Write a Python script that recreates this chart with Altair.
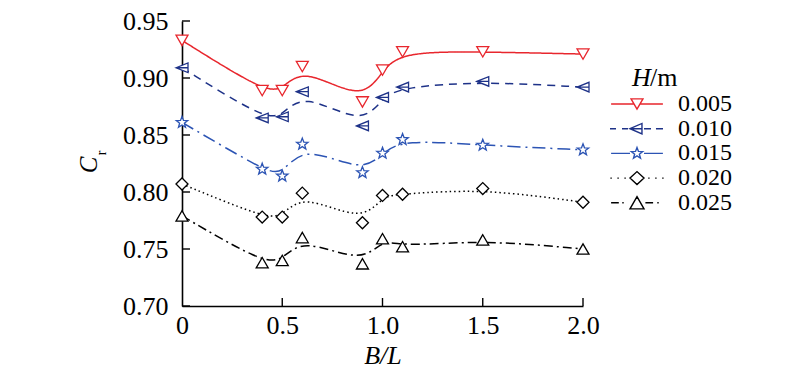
import altair as alt
import pandas as pd

# ---------------- data ----------------
B = [0, 0.4, 0.5, 0.6, 0.9, 1.0, 1.1, 1.5, 2.0]
H_LABELS = ["0.005", "0.010", "0.015", "0.020", "0.025"]
CR_005 = [0.933, 0.889, 0.889, 0.910, 0.879, 0.907, 0.923, 0.923, 0.921]
CR_010 = [0.909, 0.865, 0.866, 0.888, 0.858, 0.883, 0.892, 0.897, 0.892]
CR_015 = [0.861, 0.820, 0.814, 0.842, 0.817, 0.834, 0.846, 0.841, 0.837]
CR_020 = [0.807, 0.778, 0.778, 0.799, 0.773, 0.797, 0.798, 0.803, 0.791]
CR_025 = [0.779, 0.738, 0.740, 0.760, 0.737, 0.759, 0.752, 0.758, 0.750]
SERIES = [CR_005, CR_010, CR_015, CR_020, CR_025]

X_TICKS = [0, 0.5, 1.0, 1.5, 2.0]
Y_TICKS = [0.70, 0.75, 0.80, 0.85, 0.90, 0.95]

# ---------------- styles ----------------
FONT = "serif"
COLORS = ["#e8262d", "#1e3288", "#2c54b4", "#000000", "#000000"]
DASHES = [[1, 0], [8, 6], [13, 5, 2, 5], [1.5, 3], [9, 4, 2, 4]]


def poly(pts, s=1.0):
    return "M" + "L".join(f"{x * s:.3f},{y * s:.3f}" for x, y in pts) + "Z"


def seg(x0, x1, y=0):
    return f"M{x0},{y}L{x1},{y}"


STAR_PTS = [(0, -1), (0.247, -0.340), (0.951, -0.309), (0.399, 0.130), (0.588, 0.809),
            (0, 0.42), (-0.588, 0.809), (-0.399, 0.130), (-0.951, -0.309), (-0.247, -0.340)]
TRI_LEFT_PLOT = "M-1,0L1,-0.8L1,0.8ZM-1,0L1,0"
STAR_PLOT = poly(STAR_PTS)
POINT_SHAPES = ["triangle-down", TRI_LEFT_PLOT, STAR_PLOT, "diamond", "triangle-up"]

LEG_005 = seg(-3.7, -0.43) + seg(0.43, 3.7) + poly([(-1, -0.866), (1, -0.866), (0, 0.866)], 0.85)
LEG_010 = (seg(-3.86, -3.0) + seg(-2.14, -1.29) + "M-1,0L0.71,-0.75L0.71,0.75ZM-1,0L0.71,0"
           + seg(1.0, 2.0) + seg(2.71, 3.71))
LEG_015 = seg(-3.7, -1.0) + seg(1.0, 3.7) + poly(STAR_PTS, 0.85)
LEG_020 = ("".join(seg(c - 0.1, c + 0.1) for c in [-3.7, -2.7, -1.7, 1.7, 2.7, 3.7])
           + poly([(-1, 0), (0, -0.93), (1, 0), (0, 0.93)]))
LEG_025 = (seg(-3.7, -2.6) + seg(-2.1, -1.9) + poly([(0, -0.87), (1, 0.87), (-1, 0.87)])
           + seg(1.2, 2.3) + seg(2.9, 3.1))
LEGEND_SHAPES = [LEG_005, LEG_010, LEG_015, LEG_020, LEG_025]

rows = []
for lab, vals in zip(H_LABELS, SERIES):
    for b, v in zip(B, vals):
        rows.append({"B": b, "Cr": v, "H": lab})
df = pd.DataFrame(rows)

x_scale = alt.Scale(domain=[0, 2], nice=False, zero=False)
y_scale = alt.Scale(domain=[0.70, 0.95], nice=False, zero=False)
color_scale = alt.Scale(domain=H_LABELS, range=COLORS)

x_axis = alt.Axis(values=X_TICKS, labelExpr="datum.value == 0 ? '0' : format(datum.value, '.1f')",
                  title="B/L", grid=False, ticks=False, tickSize=0, domainColor="black",
                  domainWidth=1.6, labelFont=FONT, labelFontSize=26, labelColor="black",
                  labelPadding=6, labelFlush=False, labelOverlap=False,
                  titleFont=FONT, titleFontSize=26, titleFontStyle="italic",
                  titleFontWeight="normal", titleColor="black", titlePadding=4)
y_axis = alt.Axis(values=Y_TICKS, format=".2f", title=None, grid=False, ticks=False, tickSize=0,
                  domainColor="black", domainWidth=1.6, labelFont=FONT, labelFontSize=26,
                  labelColor="black", labelPadding=14, labelFlush=False, labelOverlap=False)

X = alt.X("B:Q", scale=x_scale, axis=x_axis)
Y = alt.Y("Cr:Q", scale=y_scale, axis=y_axis)

lines = alt.Chart(df).mark_line(interpolate="basis", strokeWidth=1.5).encode(
    x=X, y=Y,
    color=alt.Color("H:N", scale=color_scale, legend=None),
    strokeDash=alt.StrokeDash("H:N", scale=alt.Scale(domain=H_LABELS, range=DASHES), legend=None),
)

points = alt.Chart(df).mark_point(filled=False, fill="white", size=144, strokeWidth=1.3,
                                  opacity=1).encode(
    x=X, y=Y,
    color=alt.Color("H:N", scale=color_scale, legend=None),
    shape=alt.Shape("H:N", scale=alt.Scale(domain=H_LABELS, range=POINT_SHAPES), legend=None),
)

leg_props = dict(orient="none", legendX=443, legendY=71, title=None, padding=0,
                 labelFont=FONT, labelFontSize=24, labelColor="black", labelOffset=29,
                 rowPadding=0.7, symbolSize=196, symbolStrokeWidth=1.4)

legend_layer = alt.Chart(df).transform_filter("false").mark_point(
    filled=False, size=196, strokeWidth=1.4, opacity=1).encode(
    x=X, y=Y,
    stroke=alt.Stroke("H:N", scale=alt.Scale(domain=H_LABELS, range=COLORS),
                      legend=alt.Legend(**leg_props)),
    shape=alt.Shape("H:N", scale=alt.Scale(domain=H_LABELS, range=LEGEND_SHAPES),
                    legend=alt.Legend(**leg_props)),
)

ytick_df = pd.DataFrame({"Cr": Y_TICKS})
xtick_df = pd.DataFrame({"B": X_TICKS[1:]})
yticks = alt.Chart(ytick_df).mark_rule(color="black", strokeWidth=1.4).encode(
    y=alt.Y("Cr:Q", scale=y_scale, axis=y_axis), x=alt.datum(0), x2=alt.datum(0.04))
xticks = alt.Chart(xtick_df).mark_rule(color="black", strokeWidth=1.4).encode(
    x=alt.X("B:Q", scale=x_scale, axis=x_axis), y=alt.datum(0.70), y2=alt.datum(0.707))

one = pd.DataFrame({"t": [""]})
t_H = alt.Chart(one).mark_text(text="H", font=FONT, fontSize=26, fontStyle="italic",
                               align="left", baseline="middle", color="black").encode(
    x=alt.value(450), y=alt.value(57))
t_m = alt.Chart(one).mark_text(text="/m", font=FONT, fontSize=26, align="left",
                               baseline="middle", color="black").encode(
    x=alt.value(468), y=alt.value(57))
t_C = alt.Chart(one).mark_text(text="C", font=FONT, fontSize=25, fontStyle="italic", angle=270,
                               align="center", baseline="middle", color="black").encode(
    x=alt.value(-93), y=alt.value(144))
t_r = alt.Chart(one).mark_text(text="r", font=FONT, fontSize=14, angle=270,
                               align="center", baseline="middle", color="black").encode(
    x=alt.value(-80), y=alt.value(132))

chart = alt.layer(lines, points, legend_layer, yticks, xticks, t_H, t_m, t_C, t_r).resolve_scale(
    shape="independent", stroke="independent"
).properties(
    width=401, height=285,
    autosize=alt.AutoSizeParams(type="none"),
    padding={"left": 174, "top": 13, "right": 209, "bottom": 66},
).configure_view(stroke=None)

chart.save("out.html", embed_options={"renderer": "svg", "actions": False})
